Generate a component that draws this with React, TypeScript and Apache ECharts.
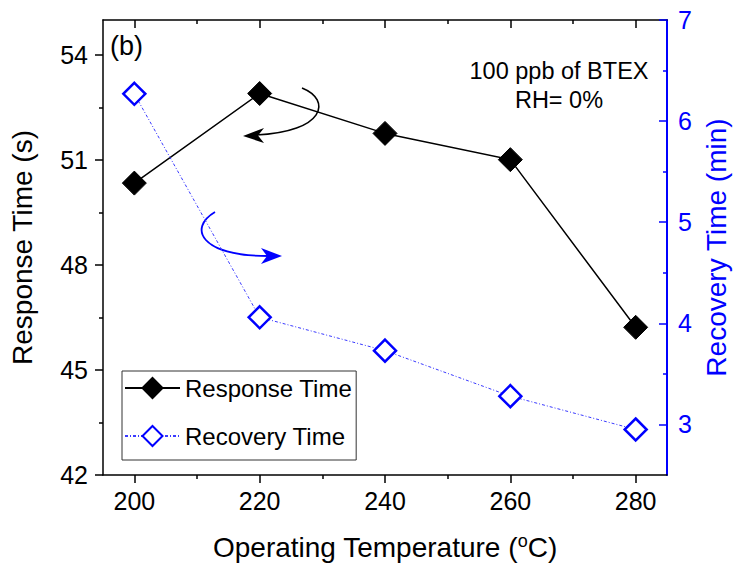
import React, { useEffect, useRef } from "react";
import * as echarts from "echarts";

const temps = [200, 220, 240, 260, 280];
const responseTime = [50.34, 52.9, 51.76, 51.01, 46.22];
const recoveryTime = [6.27, 4.06, 3.73, 3.28, 2.95];

const xMajor = [200, 220, 240, 260, 280];
const xMinor = [210, 230, 250, 270];
const leftMajor = [42, 45, 48, 51, 54];
const leftMinor = [43.5, 46.5, 49.5, 52.5];
const rightMajor = [3, 4, 5, 6, 7];
const rightMinor = [3.5, 4.5, 5.5, 6.5];

const FONT = "'Liberation Sans', Arial, sans-serif";
const BLUE = "#0000ff";

export default function App() {
  const ref = useRef<HTMLDivElement>(null);

  useEffect(() => {
    if (!ref.current) return;
    const chart = echarts.init(ref.current, null, { renderer: "svg" });

    const xBase = {
      type: "value",
      min: 195,
      max: 285,
      gridIndex: 0,
      splitLine: { show: false },
    };
    const yLeftBase = {
      type: "value",
      min: 42,
      max: 55,
      gridIndex: 0,
      splitLine: { show: false },
    };
    const yRightBase = {
      type: "value",
      min: 2.5,
      max: 7,
      gridIndex: 0,
      splitLine: { show: false },
    };
    const blackLine = { color: "#000", width: 1.5 };

    const option: any = {
      animation: false,
      backgroundColor: "#fff",
      textStyle: { fontFamily: FONT },
      grid: {
        left: 103,
        right: 66,
        top: 20,
        bottom: 94,
        containLabel: false,
        outerBoundsMode: "none",
      },
      legend: {
        orient: "vertical",
        left: 122,
        top: 371,
        padding: [5, 4, 12, 2],
        itemGap: 24,
        itemWidth: 55,
        itemHeight: 25,
        borderColor: "#333",
        borderWidth: 1,
        textStyle: { fontSize: 24, color: "#000", fontFamily: FONT },
        data: ["Response Time", "Recovery Time"],
      },
      xAxis: [
        {
          ...xBase,
          position: "bottom",
          name: "Operating Temperature ({sup|o}C)",
          nameLocation: "middle",
          nameGap: 57,
          nameTextStyle: {
            fontSize: 28,
            color: "#000",
            fontFamily: FONT,
            rich: {
              sup: { fontSize: 18, color: "#000", fontFamily: FONT, padding: [0, 0, 12, 0] },
            },
          },
          axisLine: { show: true, onZero: false, lineStyle: blackLine },
          axisTick: { show: true, inside: false, length: 8, customValues: xMajor, lineStyle: blackLine },
          axisLabel: { show: true, customValues: xMajor, fontSize: 25, color: "#000", fontFamily: FONT, margin: 13 },
        },
        {
          ...xBase,
          position: "bottom",
          axisLine: { show: false, onZero: false },
          axisTick: { show: true, inside: false, length: 4, customValues: xMinor, lineStyle: blackLine },
          axisLabel: { show: false },
        },
        {
          ...xBase,
          position: "top",
          axisLine: { show: true, onZero: false, lineStyle: blackLine },
          axisTick: { show: true, inside: true, length: 8, customValues: xMajor, lineStyle: blackLine },
          axisLabel: { show: false },
        },
        {
          ...xBase,
          position: "top",
          axisLine: { show: false, onZero: false },
          axisTick: { show: true, inside: true, length: 4, customValues: xMinor, lineStyle: blackLine },
          axisLabel: { show: false },
        },
      ],
      yAxis: [
        {
          ...yLeftBase,
          position: "left",
          name: "Response Time (s)",
          nameLocation: "middle",
          nameGap: 67,
          nameRotate: 90,
          nameTextStyle: { fontSize: 28, color: "#000", fontFamily: FONT },
          axisLine: { show: true, onZero: false, lineStyle: blackLine },
          axisTick: { show: true, inside: false, length: 8, customValues: leftMajor, lineStyle: blackLine },
          axisLabel: { show: true, customValues: leftMajor, fontSize: 25, color: "#000", fontFamily: FONT, margin: 15 },
        },
        {
          ...yLeftBase,
          position: "left",
          axisLine: { show: false, onZero: false },
          axisTick: { show: true, inside: false, length: 4, customValues: leftMinor, lineStyle: blackLine },
          axisLabel: { show: false },
        },
        {
          ...yRightBase,
          position: "right",
          name: "Recovery Time (min)",
          nameLocation: "middle",
          nameGap: 35,
          nameRotate: 90,
          nameTextStyle: { fontSize: 28, color: BLUE, fontFamily: FONT },
          axisLine: { show: true, onZero: false, lineStyle: { color: BLUE, width: 2 } },
          axisTick: { show: true, inside: true, length: 8, customValues: rightMajor, lineStyle: { color: BLUE, width: 1.5 } },
          axisLabel: { show: true, customValues: rightMajor, fontSize: 25, color: BLUE, fontFamily: FONT, margin: 11 },
        },
        {
          ...yRightBase,
          position: "right",
          axisLine: { show: false, onZero: false },
          axisTick: { show: true, inside: true, length: 4, customValues: rightMinor, lineStyle: { color: BLUE, width: 1.5 } },
          axisLabel: { show: false },
        },
      ],
      series: [
        {
          name: "Response Time",
          type: "line",
          xAxisIndex: 0,
          yAxisIndex: 0,
          data: temps.map((t, i) => [t, responseTime[i]]),
          symbol: "diamond",
          symbolSize: 24,
          lineStyle: { color: "#000", width: 1.5 },
          itemStyle: { color: "#000", borderColor: "#000", borderWidth: 1 },
          z: 3,
        },
        {
          name: "Recovery Time",
          type: "line",
          xAxisIndex: 0,
          yAxisIndex: 2,
          data: temps.map((t, i) => [t, recoveryTime[i]]),
          symbol: "diamond",
          symbolSize: 22,
          lineStyle: { color: "#3a3aff", width: 1, type: [3, 2, 1, 2] },
          itemStyle: { color: "#fff", borderColor: BLUE, borderWidth: 2.5 },
          z: 3,
        },
      ],
      graphic: [
        {
          type: "text",
          left: 110,
          top: 32,
          style: { text: "(b)", fontSize: 27, fill: "#000", fontFamily: FONT },
        },
        {
          type: "text",
          x: 559,
          y: 56,
          style: {
            text: "100 ppb of BTEX\nRH= 0%",
            fontSize: 23.5,
            lineHeight: 29,
            fill: "#000",
            fontFamily: FONT,
            align: "center",
            verticalAlign: "top",
          },
        },
        {
          type: "bezierCurve",
          shape: { x1: 302, y1: 88, cpx1: 332, cpy1: 100, cpx2: 325, cpy2: 132, x2: 256, y2: 135 },
          style: { stroke: "#000", lineWidth: 1.6, fill: "none" },
        },
        {
          type: "polygon",
          shape: { points: [[243, 136], [264, 128], [258, 135.5], [264, 143]] },
          style: { fill: "#000" },
        },
        {
          type: "bezierCurve",
          shape: { x1: 215, y1: 212, cpx1: 188, cpy1: 228, cpx2: 200, cpy2: 256, x2: 268, y2: 256 },
          style: { stroke: BLUE, lineWidth: 1.8, fill: "none" },
        },
        {
          type: "polygon",
          shape: { points: [[282, 256], [261, 248], [267, 256], [261, 264]] },
          style: { fill: BLUE },
        },
      ],
    };

    chart.setOption(option);
    return () => chart.dispose();
  }, []);

  return <div ref={ref} style={{ width: 733, height: 569, position: "absolute", left: 0, top: 0 }} />;
}
